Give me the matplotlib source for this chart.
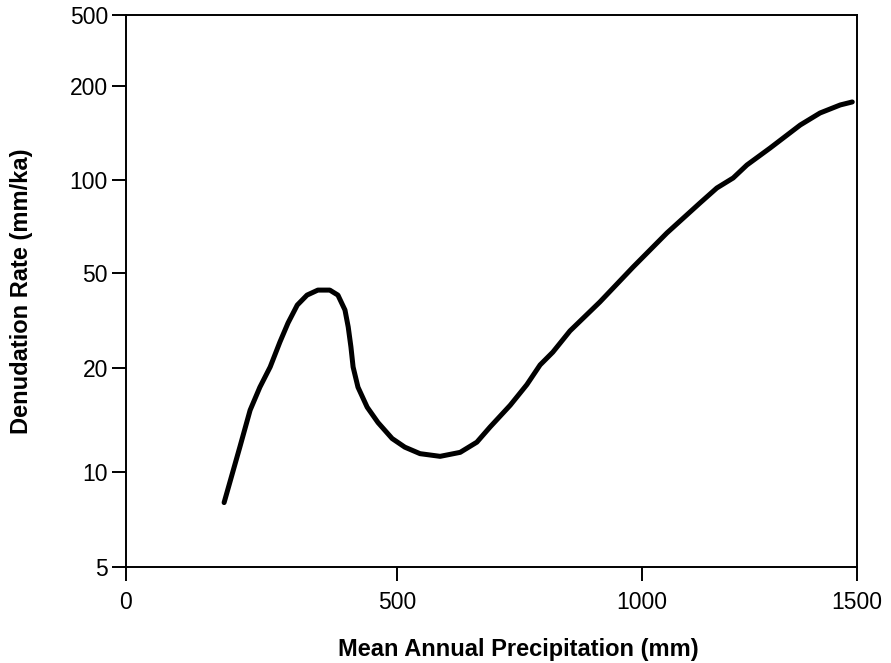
import numpy as np
import matplotlib
matplotlib.use("Agg")
import matplotlib.pyplot as plt
from matplotlib.ticker import FixedLocator, FixedFormatter, NullLocator

# ---- data ----
precip_mm = [181, 210, 229, 247, 266, 284, 299, 316, 334, 354, 376, 391, 404, 410,
             415, 419, 428, 445, 465, 491, 516, 547, 588, 629, 663, 690, 731, 765,
             792, 818, 853, 914, 982, 1058, 1135, 1174, 1212, 1244, 1298, 1368,
             1414, 1461, 1489]
denudation = [8.0, 11.8, 15.1, 17.6, 20.2, 25.7, 30.9, 36.7, 40.4, 42.4, 42.4, 40.4,
              35.0, 29.7, 24.5, 20.2, 17.6, 15.4, 13.9, 12.5, 11.8, 11.3, 11.1, 11.4,
              12.2, 13.5, 15.6, 17.9, 20.6, 23.3, 28.6, 37.8, 52.3, 67.4, 84.3, 94.2,
              101.5, 111.7, 126.6, 150.0, 163.9, 173.9, 177.8]

x_ticks = [0, 500, 1000, 1500]
x_tick_labels = ["0", "500", "1000", "1500"]
y_ticks = [5, 10, 20, 50, 100, 200, 500]
y_tick_labels = ["5", "10", "20", "50", "100", "200", "500"]

# ---- axis geometry of the original (hand-drawn) axes ----
x_anchor_pos = [0, 271, 516, 731]
y_anchor_pos = [0, 95, 199, 294, 387, 481, 552]


def extend(xs, ys):
    xs = list(map(float, xs)); ys = list(map(float, ys))
    s0 = (ys[1] - ys[0]) / (xs[1] - xs[0])
    s1 = (ys[-1] - ys[-2]) / (xs[-1] - xs[-2])
    d = 1e4
    return ([xs[0] - d] + xs + [xs[-1] + d],
            [ys[0] - d * s0] + ys + [ys[-1] + d * s1])


xa, xp = extend(x_ticks, x_anchor_pos)
ly = list(np.log10(y_ticks))
ya, yp = extend(ly, y_anchor_pos)


def xf(v):
    return np.interp(v, xa, xp)


def xi(p):
    return np.interp(p, xp, xa)


def yf(v):
    v = np.clip(np.asarray(v, dtype=float), 1e-6, None)
    return np.interp(np.log10(v), ya, yp)


def yi(p):
    return 10 ** np.interp(p, yp, ya)


plt.rcParams['font.family'] = ['Liberation Sans', 'DejaVu Sans']

fig = plt.figure(figsize=(8.91, 6.63), dpi=100)
ax = fig.add_axes([126 / 891, 1 - 567 / 663, (857 - 126) / 891, (567 - 15) / 663])

ax.set_xscale('function', functions=(xf, xi))
ax.set_yscale('function', functions=(yf, yi))

ax.plot(precip_mm, denudation, color='black', linewidth=3.6,
        solid_joinstyle='round', solid_capstyle='round')

ax.set_xlim(0, 1500)
ax.set_ylim(5, 500)

ax.xaxis.set_major_locator(FixedLocator(x_ticks))
ax.xaxis.set_major_formatter(FixedFormatter(x_tick_labels))
ax.yaxis.set_major_locator(FixedLocator(y_ticks))
ax.yaxis.set_major_formatter(FixedFormatter(y_tick_labels))
ax.xaxis.set_minor_locator(NullLocator())
ax.yaxis.set_minor_locator(NullLocator())

for s in ax.spines.values():
    s.set_linewidth(1.4)

ax.tick_params(axis='both', direction='out', length=10, width=1.4,
               labelsize=16.5, colors='black')
ax.tick_params(axis='x', pad=7)
ax.tick_params(axis='y', pad=3)

ax.set_xlabel("Mean Annual Precipitation (mm)", fontsize=17, fontweight='bold')
ax.set_ylabel("Denudation Rate (mm/ka)", fontsize=17, fontweight='bold')
ax.xaxis.set_label_coords(0.536, -0.1286)
ax.yaxis.set_label_coords(-0.127, 0.5)

fig.savefig("out.png", dpi=100)
